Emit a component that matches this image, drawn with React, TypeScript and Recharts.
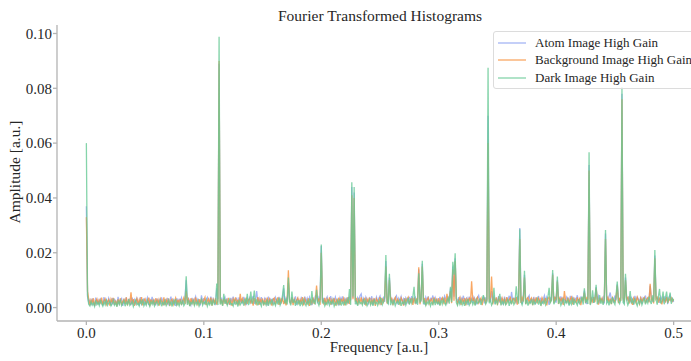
import React from "react";
import { LineChart, Line, XAxis, YAxis } from "recharts";

// Amplitudes in units of 1e-4, sampled every 0.001 in frequency from 0 to 0.5
const atomHighGain = [
  370, 40, 18, 28, 9, 33, 20, 5, 36, 15,
  27, 11, 31, 23, 7, 38, 17, 29, 12, 34,
  21, 8, 35, 16, 30, 24, 10, 39, 14, 26,
  33, 6, 28, 19, 37, 12, 25, 31, 9, 36,
  18, 29, 11, 34, 22, 7, 38, 15, 27, 32,
  13, 24, 36, 10, 30, 20, 39, 16, 26, 8,
  33, 19, 28, 12, 37, 23, 9, 31, 17, 35,
  14, 26, 40, 11, 29, 21, 6, 34, 18, 30,
  24, 36, 13, 27, 38, 100, 16, 32, 22, 10,
  35, 19, 28, 40, 15, 31, 25, 8, 45, 20,
  34, 12, 29, 37, 18, 26, 40, 14, 32, 23,
  9, 70, 30, 890, 21, 36, 16, 28, 38, 13,
  31, 25, 10, 35, 20, 40, 17, 28, 33, 11,
  37, 22, 30, 15, 39, 26, 9, 34, 24, 36,
  19, 30, 42, 14, 27, 60, 21, 33, 12, 38,
  25, 16, 35, 29, 8, 40, 23, 31, 18, 34,
  13, 37, 26, 20, 39, 11, 32, 28, 70, 16,
  35, 23, 90, 30, 14, 38, 22, 27, 41, 10,
  33, 25, 18, 36, 29, 12, 40, 21, 34, 16,
  38, 26, 9, 31, 24, 42, 44, 15, 37, 28,
  225, 20, 35, 13, 30, 39, 17, 27, 42, 11,
  33, 24, 38, 19, 29, 8, 36, 25, 41, 16,
  32, 22, 37, 14, 40, 26, 440, 35, 420, 30,
  18, 36, 25, 43, 50, 20, 33, 12, 38, 27,
  15, 35, 29, 41, 10, 31, 24, 38, 19, 34,
  42, 16, 27, 36, 21, 170, 32, 13, 110, 39,
  23, 30, 17, 37, 43, 12, 34, 26, 40, 20,
  31, 9, 36, 28, 15, 39, 24, 42, 18, 33,
  38, 14, 27, 140, 35, 22, 160, 30, 11, 37,
  25, 41, 19, 33, 28, 44, 16, 36, 23, 30,
  12, 39, 26, 34, 20, 42, 31, 18, 37, 25,
  70, 29, 150, 40, 180, 33, 22, 38, 14, 35,
  27, 43, 19, 31, 36, 10, 40, 24, 33, 17,
  38, 29, 12, 35, 44, 21, 30, 26, 41, 15,
  37, 23, 700, 33, 20, 60, 28, 39, 14, 32,
  25, 42, 18, 36, 29, 11, 40, 22, 34, 27,
  43, 16, 57, 24, 35, 30, 19, 41, 26, 290,
  33, 13, 38, 120, 28, 21, 36, 44, 17, 31,
  25, 39, 12, 34, 28, 42, 20, 36, 15, 31,
  44, 23, 38, 27, 10, 35, 30, 125, 22, 40,
  18, 100, 33, 26, 41, 14, 36, 29, 21, 39,
  32, 11, 43, 25, 37, 19, 34, 28, 45, 16,
  30, 38, 22, 35, 62, 27, 13, 41, 520, 33,
  24, 39, 17, 36, 75, 29, 42, 20, 32, 26,
  37, 15, 270, 31, 23, 40, 55, 28, 35, 18,
  44, 26, 85, 33, 21, 38, 780, 30, 16, 110,
  34, 27, 41, 19, 36, 29, 12, 43, 25, 38,
  31, 22, 40, 14, 35, 28, 44, 20, 33, 26,
  80, 37, 24, 31, 190, 42, 29, 35, 17, 39,
  30, 22, 41, 26, 36, 13, 38, 45, 24, 32,
  20,
];

const backgroundHighGain = [
  330, 60, 30, 8, 28, 17, 34, 6, 22, 31,
  12, 27, 18, 36, 9, 24, 32, 11, 21, 29,
  7, 31, 19, 35, 10, 25, 5, 30, 16, 34,
  9, 23, 29, 13, 37, 8, 27, 17, 56, 12,
  31, 6, 24, 33, 11, 28, 15, 38, 8, 26,
  32, 14, 23, 36, 5, 30, 17, 27, 9, 34,
  18, 29, 7, 32, 22, 12, 37, 9, 28, 16,
  33, 6, 26, 31, 11, 24, 35, 8, 29, 14,
  32, 10, 25, 36, 13, 60, 20, 30, 6, 34,
  17, 28, 8, 37, 21, 11, 31, 15, 33, 12,
  27, 38, 9, 24, 32, 13, 36, 7, 29, 18,
  34, 11, 25, 900, 15, 30, 8, 33, 19, 28,
  10, 35, 16, 27, 6, 31, 21, 37, 12, 29,
  8, 50, 17, 33, 20, 11, 36, 14, 28, 32,
  18, 29, 7, 34, 22, 13, 38, 10, 30, 19,
  33, 8, 27, 15, 36, 11, 31, 21, 7, 29,
  35, 14, 25, 37, 10, 30, 19, 33, 13, 28,
  8, 34, 136, 21, 16, 36, 9, 30, 17, 27,
  35, 12, 29, 18, 38, 8, 32, 20, 14, 34,
  6, 30, 17, 37, 13, 27, 80, 20, 33, 10,
  200, 28, 16, 35, 9, 31, 21, 37, 11, 29,
  18, 34, 7, 27, 15, 36, 10, 30, 22, 34,
  8, 29, 17, 38, 13, 32, 410, 30, 400, 22,
  35, 10, 30, 19, 37, 12, 28, 33, 7, 31,
  21, 36, 11, 29, 17, 34, 6, 32, 23, 14,
  38, 10, 30, 20, 35, 150, 15, 29, 100, 22,
  33, 9, 28, 37, 16, 31, 21, 12, 35, 25,
  7, 34, 18, 30, 38, 13, 27, 32, 10, 36,
  18, 31, 23, 147, 12, 33, 150, 19, 35, 8,
  29, 36, 15, 26, 32, 11, 37, 21, 30, 14,
  34, 9, 28, 36, 18, 31, 12, 50, 22, 32,
  60, 16, 140, 25, 170, 33, 13, 27, 37, 10,
  30, 19, 35, 8, 31, 22, 36, 14, 96, 24,
  33, 11, 31, 38, 17, 27, 35, 9, 29, 34,
  18, 30, 600, 21, 36, 113, 12, 32, 23, 37,
  9, 34, 25, 15, 35, 22, 31, 10, 38, 20,
  28, 36, 14, 31, 33, 20, 38, 11, 30, 250,
  17, 36, 22, 110, 13, 32, 37, 17, 29, 35,
  9, 31, 21, 37, 15, 33, 24, 12, 36, 26,
  18, 35, 8, 32, 38, 21, 29, 120, 17, 36,
  31, 95, 13, 34, 23, 37, 10, 60, 26, 20,
  36, 15, 31, 38, 12, 33, 24, 18, 37, 22,
  32, 9, 37, 25, 55, 17, 35, 27, 500, 13,
  33, 22, 38, 20, 70, 31, 11, 36, 23, 34,
  15, 32, 250, 26, 37, 18, 33, 13, 36, 27,
  21, 38, 80, 16, 32, 24, 760, 35, 20, 100,
  31, 37, 14, 34, 23, 10, 36, 29, 17, 38,
  26, 13, 35, 22, 32, 37, 16, 30, 36, 19,
  87, 28, 34, 15, 180, 31, 37, 18, 33, 25,
  12, 36, 27, 21, 38, 17, 32, 26, 35, 23,
  31,
];

const darkHighGain = [
  600, 45, 12, 6, 22, 9, 17, 4, 26, 11,
  19, 7, 28, 14, 5, 21, 10, 30, 8, 16,
  24, 6, 13, 27, 9, 18, 3, 23, 12, 29,
  7, 15, 25, 5, 20, 11, 31, 8, 14, 22,
  4, 18, 27, 10, 16, 6, 24, 13, 30, 7,
  19, 9, 26, 15, 4, 21, 12, 28, 6, 17,
  23, 8, 14, 29, 5, 19, 11, 25, 7, 16,
  27, 10, 20, 4, 24, 13, 31, 9, 18, 6,
  22, 12, 28, 7, 15, 114, 10, 26, 5, 19,
  13, 29, 8, 21, 11, 25, 6, 17, 30, 9,
  20, 14, 27, 5, 18, 10, 24, 7, 29, 12,
  16, 88, 9, 988, 11, 23, 6, 50, 14, 26,
  8, 19, 30, 11, 15, 6, 25, 13, 21, 4,
  28, 10, 17, 24, 7, 33, 12, 50, 9, 20,
  58, 14, 26, 62, 11, 30, 8, 22, 16, 5,
  27, 12, 19, 9, 29, 6, 23, 14, 31, 10,
  18, 7, 25, 12, 35, 9, 20, 45, 82, 15,
  28, 11, 110, 22, 8, 58, 17, 30, 6, 24,
  13, 27, 5, 21, 10, 29, 16, 7, 24, 12,
  33, 9, 60, 18, 26, 11, 65, 20, 8, 28,
  230, 15, 25, 6, 19, 12, 30, 9, 22, 14,
  27, 5, 18, 10, 26, 13, 31, 7, 20, 11,
  24, 8, 29, 16, 68, 10, 457, 40, 440, 12,
  21, 6, 27, 14, 19, 9, 32, 11, 25, 7,
  17, 28, 10, 23, 6, 30, 13, 19, 8, 26,
  15, 35, 11, 22, 40, 192, 20, 14, 123, 9,
  25, 12, 29, 7, 18, 24, 10, 31, 6, 20,
  14, 27, 9, 22, 35, 11, 28, 16, 40, 76,
  15, 26, 10, 125, 18, 30, 171, 12, 24, 8,
  21, 13, 28, 6, 19, 11, 33, 9, 25, 14,
  22, 7, 27, 12, 30, 16, 9, 24, 35, 14,
  76, 20, 167, 120, 198, 18, 8, 26, 12, 29,
  10, 21, 6, 25, 14, 31, 9, 18, 27, 11,
  23, 7, 28, 15, 20, 33, 10, 24, 45, 30,
  13, 22, 875, 16, 28, 9, 19, 72, 11, 26,
  14, 30, 50, 8, 23, 12, 27, 10, 18, 31,
  6, 24, 15, 29, 11, 20, 78, 35, 14, 286,
  22, 10, 26, 134, 12, 28, 7, 21, 16, 30,
  9, 25, 13, 19, 32, 11, 27, 6, 22, 15,
  29, 10, 24, 40, 72, 18, 26, 137, 12, 21,
  30, 113, 14, 27, 8, 19, 33, 11, 24, 16,
  29, 7, 22, 12, 35, 10, 26, 18, 9, 31,
  15, 23, 40, 11, 70, 20, 28, 13, 567, 9,
  25, 63, 17, 30, 83, 12, 22, 45, 14, 27,
  10, 32, 283, 16, 24, 8, 29, 13, 38, 20,
  11, 45, 95, 22, 14, 30, 805, 18, 12, 123,
  26, 9, 21, 60, 15, 28, 11, 33, 19, 7,
  24, 14, 30, 10, 22, 35, 12, 27, 16, 40,
  25, 13, 45, 20, 210, 30, 11, 40, 68, 15,
  26, 58, 12, 35, 58, 20, 30, 55, 14, 33,
  25,
];

const FREQ_STEP = 0.001;
const AMP_UNIT = 1e-4;
const xTicks = [0, 0.1, 0.2, 0.3, 0.4, 0.5];
const yTicks = [0, 0.02, 0.04, 0.06, 0.08, 0.1];

const seriesInfo = [
  { key: "atom", name: "Atom Image High Gain", color: "#8ea2f2" },
  { key: "background", name: "Background Image High Gain", color: "#f7913c" },
  { key: "dark", name: "Dark Image High Gain", color: "#66c995" },
];

const rows = darkHighGain.map((_, i) => ({
  f: i * FREQ_STEP,
  atom: atomHighGain[i] * AMP_UNIT,
  background: backgroundHighGain[i] * AMP_UNIT,
  dark: darkHighGain[i] * AMP_UNIT,
}));

const FONT = '"Liberation Serif", "DejaVu Serif", serif';
const AXIS_GREY = "#b3b3b3";
const TEXT = "#262626";

const LegendBox = () => (
  <div
    style={{
      position: "absolute",
      left: 493,
      top: 31,
      width: 215,
      height: 58,
      boxSizing: "border-box",
      border: "1px solid #dcdcdc",
      borderRadius: 3,
      background: "rgba(255,255,255,0.8)",
      fontFamily: FONT,
      fontSize: 13,
      color: TEXT,
      paddingTop: 2,
    }}
  >
    {seriesInfo.map((s) => (
      <div key={s.key} style={{ display: "flex", alignItems: "center", height: 17.5 }}>
        <svg width={41} height={10} style={{ flex: "none" }}>
          <line x1={4} x2={32} y1={5} y2={5} stroke={s.color} strokeOpacity={0.8} strokeWidth={1.3} />
        </svg>
        <span style={{ whiteSpace: "nowrap" }}>{s.name}</span>
      </div>
    ))}
  </div>
);

export default function App() {
  return (
    <div
      style={{
        position: "absolute",
        left: 0,
        top: 0,
        width: 691,
        height: 361,
        overflow: "hidden",
        background: "#fff",
      }}
    >
      <LineChart
        width={703}
        height={361}
        data={rows}
        margin={{ top: 25, right: 0, bottom: 0, left: 0 }}
      >
        <XAxis
          dataKey="f"
          type="number"
          domain={[-0.025, 0.525]}
          ticks={xTicks}
          allowDataOverflow
          tickFormatter={(v: number) => v.toFixed(1)}
          height={40}
          stroke={AXIS_GREY}
          strokeWidth={1.3}
          tickSize={4}
          tickMargin={2}
          tick={{ fill: TEXT, fontSize: 15, fontFamily: FONT }}
        />
        <YAxis
          type="number"
          domain={[-0.0049, 0.1031]}
          ticks={yTicks}
          allowDataOverflow
          tickFormatter={(v: number) => v.toFixed(2)}
          width={57}
          stroke={AXIS_GREY}
          strokeWidth={1.3}
          tickSize={4}
          tickMargin={1}
          tick={{ fill: TEXT, fontSize: 15, fontFamily: FONT }}
        />
        {seriesInfo.map((s) => (
          <Line
            key={s.key}
            dataKey={s.key}
            name={s.name}
            type="linear"
            stroke={s.color}
            strokeOpacity={0.8}
            strokeWidth={1.3}
            dot={false}
            activeDot={false}
            isAnimationActive={false}
          />
        ))}
      </LineChart>
      <LegendBox />
      <div
        style={{
          position: "absolute",
          left: 0,
          width: 760,
          top: 7,
          textAlign: "center",
          fontFamily: FONT,
          fontSize: 15.5,
          color: TEXT,
        }}
      >
        Fourier Transformed Histograms
      </div>
      <div
        style={{
          position: "absolute",
          left: 0,
          width: 758,
          top: 339,
          textAlign: "center",
          fontFamily: FONT,
          fontSize: 15,
          color: TEXT,
        }}
      >
        Frequency [a.u.]
      </div>
      <div
        style={{
          position: "absolute",
          left: 15,
          top: 172,
          transform: "translate(-50%, -50%) rotate(-90deg)",
          whiteSpace: "nowrap",
          fontFamily: FONT,
          fontSize: 15.5,
          color: TEXT,
        }}
      >
        Amplitude [a.u.]
      </div>
    </div>
  );
}
